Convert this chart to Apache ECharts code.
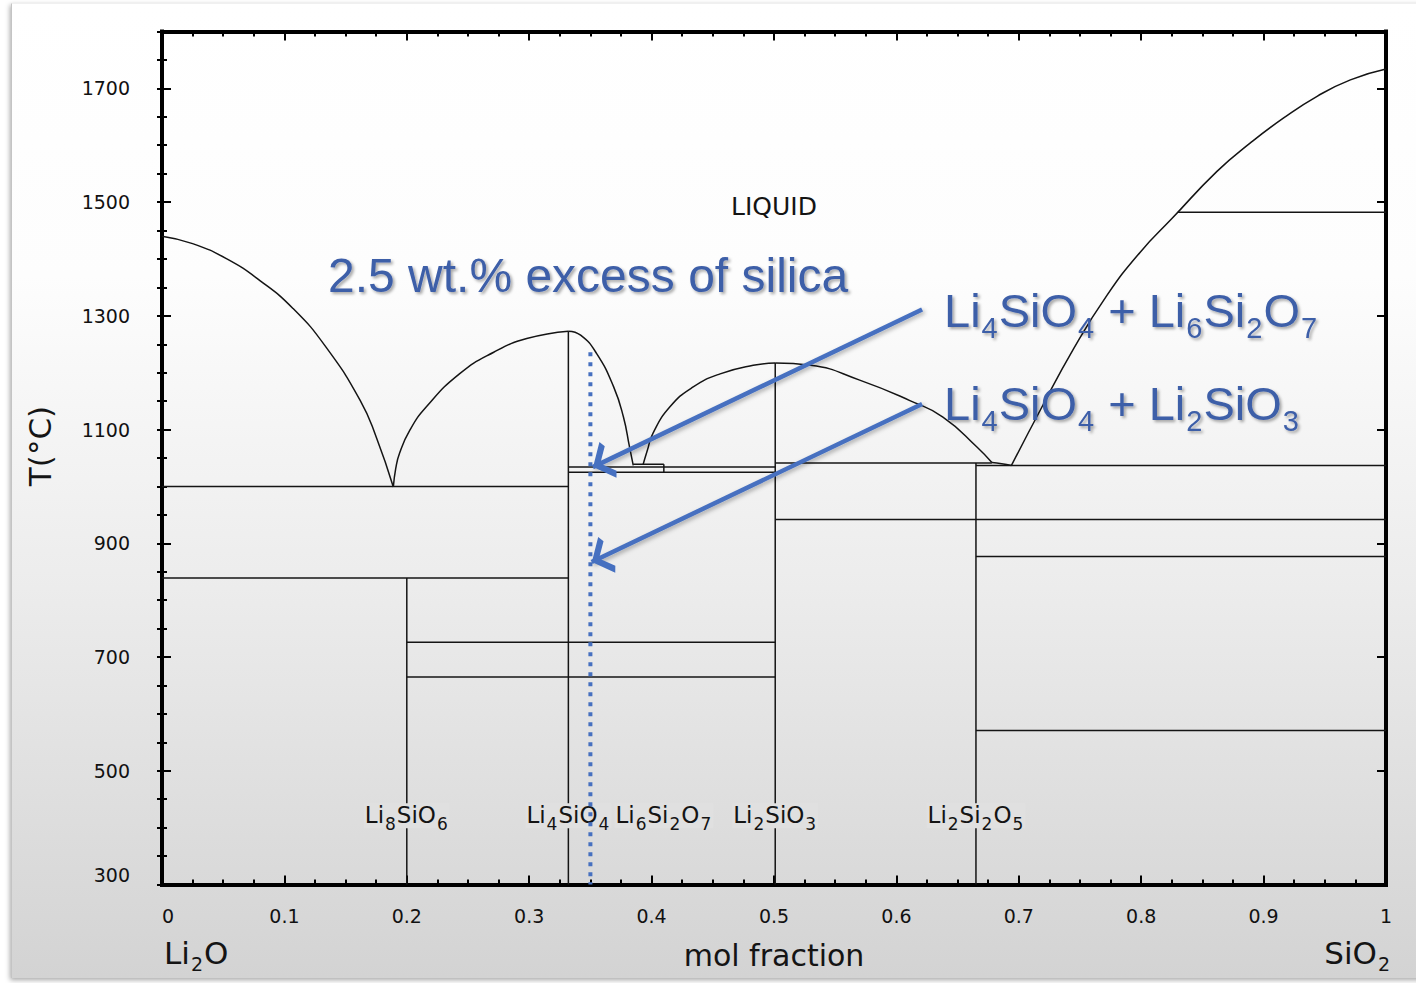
<!DOCTYPE html>
<html>
<head>
<meta charset="utf-8">
<title>Li2O - SiO2 phase diagram</title>
<script src="https://cdn.jsdelivr.net/npm/echarts@6/dist/echarts.min.js"></script>
<style>
  html, body { margin: 0; padding: 0; background: #fff; }
  body { width: 1416px; height: 983px; position: relative; overflow: hidden; }
  .slide {
    position: absolute; left: 11px; top: 3px; width: 1420px; height: 974px;
    background: linear-gradient(to bottom, #ffffff 0%, #fdfdfd 28%, #ececec 60%, #d3d3d3 100%);
    border-left: 1px solid #c4c4c4; border-top: 1px solid #f0f0f0;
    box-shadow: -1px 2px 5px rgba(0, 0, 0, 0.35);
  }
  #chart { position: absolute; left: 0; top: 0; width: 1416px; height: 983px; }
</style>
</head>
<body>
<div class="slide"></div>
<div id="chart"></div>
<script>
// axes: mol fraction SiO2 (x) and temperature in °C (y)
const xRange = [0, 1];
const xStep = 0.1;
const yRange = [300, 1800];
const yStep = 200;
const yMinorStep = 50;

// liquidus curves [x, T]
const liqLi2O = [[0, 1440], [0.025, 1427], [0.053, 1400], [0.080, 1362], [0.107, 1313], [0.134, 1245], [0.162, 1151], [0.175, 1087], [0.189, 999]];
const liqLi4SiO4Left = [[0.189, 999], [0.191, 1032], [0.194, 1058], [0.2025, 1099], [0.216, 1140], [0.243, 1198], [0.271, 1236], [0.298, 1260], [0.332, 1273]];
const liqLi4SiO4Right = [[0.332, 1273], [0.342, 1266], [0.355, 1234], [0.369, 1175], [0.377, 1122], [0.382, 1069], [0.385, 1037]];
const liqLi2SiO3Left = [[0.393, 1038], [0.3966, 1064], [0.401, 1093], [0.415, 1140], [0.434, 1175], [0.456, 1198], [0.483, 1213], [0.501, 1217]];
const liqLi2SiO3Right = [[0.501, 1217], [0.530, 1213], [0.570, 1187], [0.611, 1151], [0.638, 1122], [0.666, 1069], [0.678, 1042]];
const liqLi2Si2O5 = [[0.678, 1042], [0.686, 1040], [0.694, 1037]];
const liqSiO2 = [[0.694, 1037], [0.7175, 1134], [0.7447, 1242], [0.772, 1336], [0.7992, 1412], [0.8251, 1471],
  [0.8619, 1554], [0.8892, 1604], [0.9164, 1648], [0.9437, 1686], [0.9709, 1715], [1, 1734]];

// horizontal reaction lines [x1, x2, T]
const tieLines = [
  [0, 0.332, 1000], [0, 0.332, 839],
  [0.2, 0.501, 726], [0.2, 0.501, 665],
  [0.332, 0.501, 1034], [0.332, 0.501, 1025], [0.385, 0.41, 1039],
  [0.501, 0.678, 1041], [0.665, 1, 1037],
  [0.501, 1, 942], [0.665, 1, 877], [0.665, 1, 571],
  [0.830, 1, 1482]
];

// compound lines [x, Tbottom, Ttop]
const compoundLines = [[0.2, 300, 839], [0.332, 300, 1273], [0.41, 1025, 1039], [0.501, 300, 1217], [0.665, 300, 1041]];
const compoundNames = ['Li8SiO6', 'Li4SiO4', 'Li6Si2O7', 'Li2SiO3', 'Li2Si2O5'];
const compoundX = [0.2, 0.332, 0.41, 0.501, 0.665];
const compoundLabelT = 421;
const liquidLabel = [0.5, 1492];

// annotation: 2.5 wt.% excess silica composition and arrows
const excessX = 0.35;
const excessT = [1236, 300];
const arrowFrom = [[0.621, 1311], [0.621, 1145]];
const arrowTo = [[0.352, 1034], [0.351, 867]];

const FONT = 'DejaVu Sans';
const SANS = 'Liberation Sans';
const INK = '#141414';
const BLUE = '#4670c0';
const BLUE_TEXT = '#3d5ea8';
// open arrow head; the tiny first sub-path stretches the box so the tip sits at the centre
const CHEVRON = 'path://M11,0 L11.01,0 L11,0.01 Z M11,20 L22,36.5 L18.6,39.5 L11,28 L3.4,39.5 L0,36.5 Z';

// 'Li4SiO4' -> rich text with subscripts
function chem(s) {
  return s.split(/(\d+)/).filter(Boolean)
    .map(p => /^\d+$/.test(p) ? '{s|' + p + '}' : '{m|' + p + '}').join('');
}

function richStyle(size, subRatio, subDrop, family, color, extra) {
  const sub = Math.round(size * subRatio);
  const base = { fontFamily: family, color, fill: color, verticalAlign: 'top' };
  return {
    m: Object.assign({}, base, { fontSize: size, lineHeight: Math.round(size * 1.1) }, extra),
    s: Object.assign({}, base, { fontSize: sub, lineHeight: sub, padding: [Math.round(size * subDrop), 1, 0, 1] }, extra)
  };
}

const blueShadow = { textShadowColor: 'rgba(0,0,0,0.35)', textShadowBlur: 3, textShadowOffsetX: 2, textShadowOffsetY: 2 };

function segment(data) {
  return {
    type: 'line', data, symbol: 'none', silent: true, z: 2,
    lineStyle: { color: INK, width: 1.5 }
  };
}

const series = [];
[liqLi2O, liqLi4SiO4Left, liqLi4SiO4Right, liqLi2SiO3Left, liqLi2SiO3Right, liqLi2Si2O5, liqSiO2].forEach(c => {
  const s = segment(c);
  s.smooth = 0.5;
  series.push(s);
});
tieLines.forEach(([x1, x2, t]) => series.push(segment([[x1, t], [x2, t]])));
compoundLines.forEach(([x, t0, t1]) => series.push(segment([[x, t0], [x, t1]])));

series.push({
  type: 'scatter', silent: true, z: 3, symbolSize: 1, itemStyle: { color: 'rgba(0,0,0,0)', opacity: 1 },
  data: compoundNames.map((n, i) => ({ name: n, value: [compoundX[i], compoundLabelT] })),
  label: {
    show: true, position: 'inside', formatter: p => chem(p.name), opacity: 1, color: INK,
    backgroundColor: '#e0e0e0', padding: [0, 1, 0, 1],
    rich: richStyle(23, 0.72, 0.52, FONT, INK)
  }
});
series.push({
  type: 'scatter', silent: true, z: 3, symbolSize: 1, itemStyle: { color: 'rgba(0,0,0,0)', opacity: 1 },
  data: [{ name: 'LIQUID', value: liquidLabel }],
  label: { show: true, position: 'inside', formatter: '{b}', opacity: 1, fontSize: 25, fontFamily: FONT, color: INK }
});
series.push({
  type: 'line', silent: true, z: 5, symbol: 'none',
  data: excessT.map(t => [excessX, t]),
  lineStyle: { color: BLUE, width: 4, type: [4, 6] }
});
series.push({
  type: 'lines', coordinateSystem: 'cartesian2d', silent: true, z: 6,
  data: arrowFrom.map((f, i) => ({ coords: [f, arrowTo[i]] })),
  symbol: ['none', CHEVRON], symbolSize: [22, 39.5],
  itemStyle: { color: BLUE },
  lineStyle: { color: BLUE, width: 4.5, opacity: 1, curveness: 0, shadowBlur: 4, shadowColor: 'rgba(0,0,0,0.3)', shadowOffsetX: 2, shadowOffsetY: 2 }
});

const frame = { color: '#000', width: 4, cap: 'square' };
const tickStyle = { color: '#000', width: 2 };
const tickLabel = { fontSize: 19, fontFamily: FONT, color: '#111' };

function xAxis(position, labels) {
  return {
    type: 'value', position, min: xRange[0], max: xRange[1], interval: xStep,
    axisLine: { show: true, onZero: false, lineStyle: frame },
    axisTick: { show: true, inside: true, length: 9, lineStyle: tickStyle },
    minorTick: { show: true, splitNumber: 4, length: 5, lineStyle: tickStyle },
    axisLabel: Object.assign({ show: labels, margin: 22, alignMinLabel: 'left', formatter: v => String(+v.toFixed(2)) }, tickLabel),
    splitLine: { show: false },
    name: labels ? 'mol fraction' : '', nameLocation: 'middle', nameGap: 56,
    nameTextStyle: { fontSize: 30, fontFamily: FONT, color: INK }
  };
}

function yAxis(position, labels) {
  return {
    type: 'value', position, min: yRange[0], max: yRange[1], interval: yStep,
    axisLine: { show: true, onZero: false, lineStyle: frame },
    axisTick: { show: true, inside: true, length: 9, lineStyle: tickStyle },
    axisLabel: Object.assign({ show: labels, margin: 32, showMaxLabel: false, verticalAlignMinLabel: 'bottom', formatter: v => String(v) }, tickLabel),
    splitLine: { show: false }
  };
}

// short ticks every 50 °C
function yMinorAxis(position) {
  return {
    type: 'value', position, min: yRange[0], max: yRange[1], interval: yMinorStep,
    axisLine: { show: false },
    axisTick: { show: true, inside: true, length: 5, lineStyle: tickStyle },
    axisLabel: { show: false }, splitLine: { show: false }
  };
}

const option = {
  animation: false,
  backgroundColor: 'transparent',
  grid: { left: 162, right: 30, top: 31.5, bottom: 98.5, containLabel: false },
  xAxis: [xAxis('bottom', true), xAxis('top', false)],
  yAxis: [yAxis('left', true), yAxis('right', false), yMinorAxis('left'), yMinorAxis('right')],
  series,
  graphic: [
    {
      type: 'text', x: 40, y: 446, rotation: Math.PI / 2, z: 10,
      style: { text: 'T(°C)', fontSize: 31, fontFamily: FONT, fill: INK, align: 'center', verticalAlign: 'middle' }
    },
    {
      type: 'text', x: 164, y: 937, z: 10,
      style: { text: chem('Li2O'), rich: richStyle(31, 0.6, 0.55, FONT, INK), align: 'left', verticalAlign: 'top' }
    },
    {
      type: 'text', x: 1391, y: 937, z: 10,
      style: { text: chem('SiO2'), rich: richStyle(31, 0.6, 0.55, FONT, INK), align: 'right', verticalAlign: 'top' }
    },
    {
      type: 'text', x: 328, y: 275, z: 10,
      style: Object.assign({ text: '2.5 wt.% excess of silica', fontSize: 48, fontFamily: SANS, fill: BLUE_TEXT, align: 'left', verticalAlign: 'middle' }, blueShadow)
    },
    {
      type: 'text', x: 944, y: 287, z: 10,
      style: Object.assign({ text: chem('Li4SiO4 + Li6Si2O7'), fill: BLUE_TEXT, rich: richStyle(47, 0.62, 0.56, SANS, BLUE_TEXT, blueShadow), align: 'left', verticalAlign: 'top' }, blueShadow)
    },
    {
      type: 'text', x: 944, y: 380, z: 10,
      style: Object.assign({ text: chem('Li4SiO4 + Li2SiO3'), fill: BLUE_TEXT, rich: richStyle(47, 0.62, 0.56, SANS, BLUE_TEXT, blueShadow), align: 'left', verticalAlign: 'top' }, blueShadow)
    }
  ]
};

const chart = echarts.init(document.getElementById('chart'), null, { renderer: 'svg' });
chart.setOption(option);
window.addEventListener('resize', () => chart.resize());
</script>
</body>
</html>
